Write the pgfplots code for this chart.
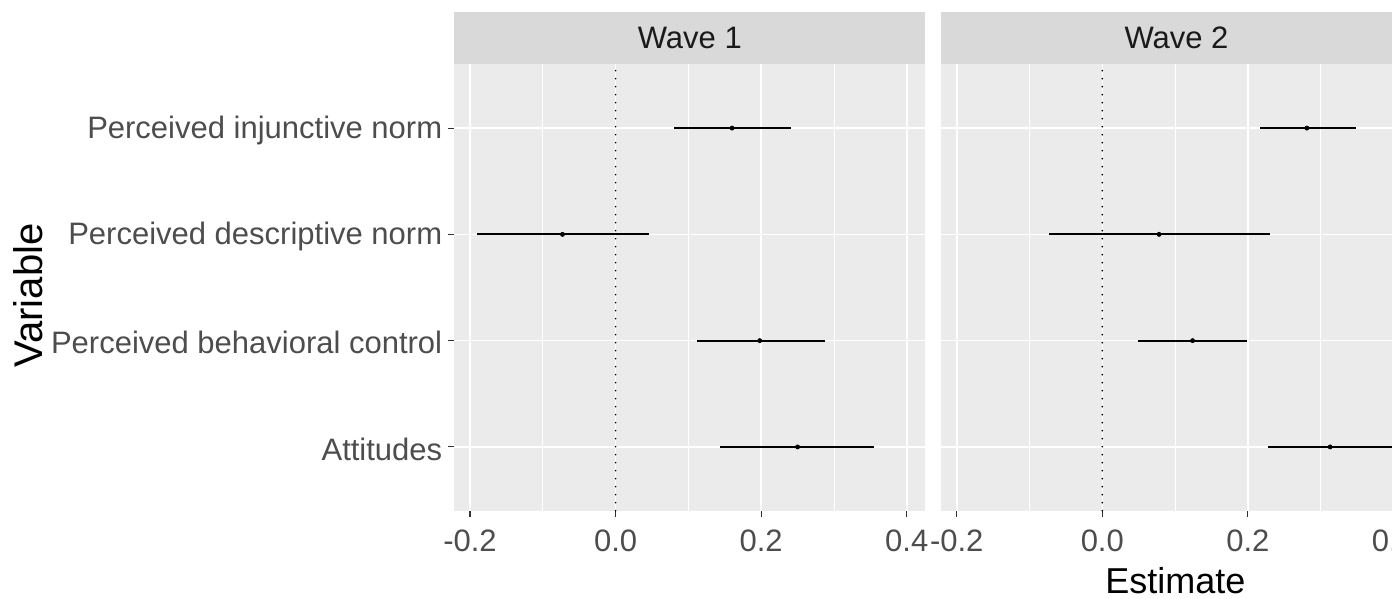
\documentclass[border=0pt]{standalone}
\usepackage{pgfplots}
\pgfplotsset{compat=1.18}
\usepackage{pgfplotstable}
\usepackage{fontspec}
\setmainfont{Liberation Sans}
\definecolor{panelbg}{HTML}{EBEBEB}
\definecolor{stripbg}{HTML}{D9D9D9}
\definecolor{ticklab}{HTML}{4D4D4D}
\definecolor{striptxt}{HTML}{1A1A1A}
\definecolor{tickcol}{HTML}{333333}

\pgfplotstableread{
y est lo hi
1 0.250 0.144 0.355
2 0.198 0.112 0.287
3 -0.073 -0.191 0.046
4 0.160 0.080 0.241
}\waveone
\pgfplotstableread{
y est lo hi
1 0.313 0.227 0.399
2 0.124 0.049 0.199
3 0.078 -0.073 0.230
4 0.281 0.217 0.348
}\wavetwo

\pgfplotsset{
  facet/.style={
    scale only axis,
    width=235.5pt, height=223.2pt,
    anchor=south west,
    xmin=-0.2216, xmax=0.4255,
    ymin=0.4, ymax=4.6,
    axis background/.style={fill=panelbg},
    axis line style={draw=none},
    xtick={-0.2,0,0.2,0.4},
    xticklabels={-0.2,0.0,0.2,0.4},
    minor xtick={-0.1,0.1,0.3},
    ytick={1,2,3,4},
    xmajorgrids=true, xminorgrids=true, ymajorgrids=true,
    major grid style={white, line width=0.8pt},
    minor grid style={white, line width=0.4pt},
    tick align=outside,
    xtick pos=left, ytick pos=left,
    major tick length=3.25pt,
    minor tick length=0pt,
    major tick style={tickcol, line width=0.55pt},
    ticklabel style={font=\fontsize{15.5}{18}\selectfont, text=ticklab},
    xticklabel style={anchor=north, inner sep=0pt, yshift=-6pt},
    yticklabel style={anchor=east, inner sep=0pt, xshift=-2.6pt, yshift=-1pt},
    clip=false,
  },
  cibar/.style={
    black, mark=*, mark size=1pt, only marks,
    error bars/.cd, x dir=both, x explicit, error mark=none,
    error bar style={line width=1.05pt, black},
  },
  zeroline/.style={black, line width=0.9pt, line cap=round, dash pattern=on 0pt off 4pt},
}

\begin{document}
\begin{tikzpicture}
\path[use as bounding box, clip] (0,0) rectangle (696pt,299.5pt);

\begin{axis}[facet, name=ax1, at={(227.15pt,44.15pt)},
  yticklabels={Attitudes,Perceived behavioral control,Perceived descriptive norm,Perceived injunctive norm}]
  \addplot[zeroline] coordinates {(0,0.4) (0,4.6)};
  \addplot[cibar] table[x=est, y=y,
    x error plus expr=\thisrow{hi}-\thisrow{est},
    x error minus expr=\thisrow{est}-\thisrow{lo}] {\waveone};
\end{axis}

\begin{axis}[facet, name=ax2, at={(470.5pt,44.15pt)},
  yticklabels={}, ytick style={draw=none}]
  \addplot[zeroline] coordinates {(0,0.4) (0,4.6)};
  \addplot[cibar] table[x=est, y=y,
    x error plus expr=\thisrow{hi}-\thisrow{est},
    x error minus expr=\thisrow{est}-\thisrow{lo}] {\wavetwo};
\end{axis}

\fill[stripbg] (ax1.north west) rectangle ([yshift=26.3pt]ax1.north east);
\fill[stripbg] (ax2.north west) rectangle ([yshift=26.3pt]ax2.north east);
\node[text=striptxt, font=\fontsize{15.5}{18}\selectfont, anchor=center, inner sep=0pt]
  at ([yshift=13.15pt]ax1.north) {Wave 1};
\node[text=striptxt, font=\fontsize{15.5}{18}\selectfont, anchor=center, inner sep=0pt]
  at ([yshift=13.15pt]ax2.north) {Wave 2};

\node[rotate=90, anchor=base, inner sep=0pt, font=\fontsize{20}{24}\selectfont]
  at (21.15pt,151.8pt) {Variable};
\node[anchor=base, inner sep=0pt, font=\fontsize{18}{22}\selectfont]
  at (587.7pt,2.5pt) {Estimate};
\end{tikzpicture}
\end{document}
